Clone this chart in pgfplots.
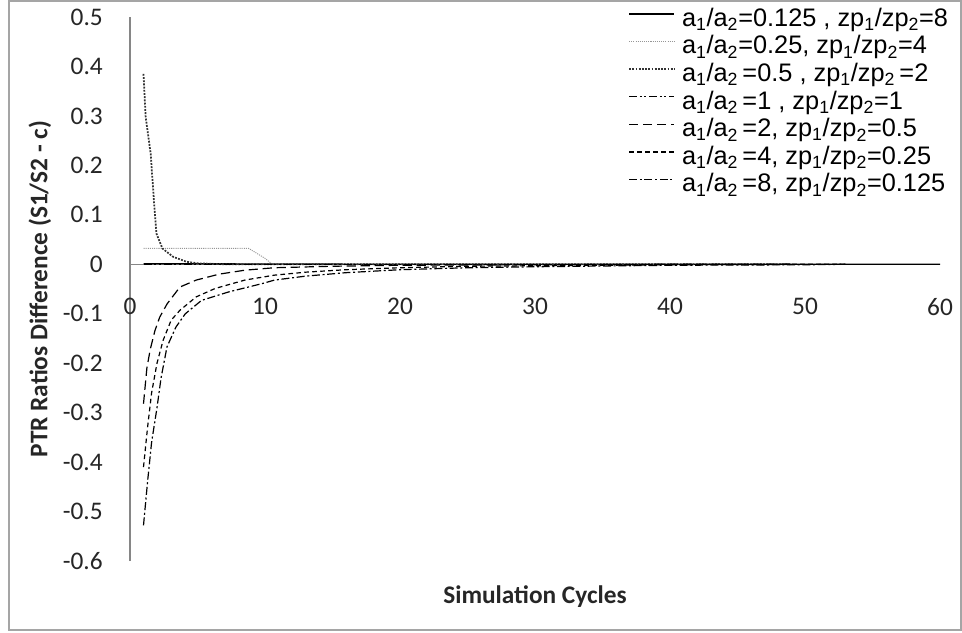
\documentclass[border=0pt]{standalone}
\usepackage{fontspec}
\setmainfont{Carlito}
\newfontfamily\arial{Liberation Sans}
\usepackage{pgfplots}
\pgfplotsset{compat=1.18}
\definecolor{axisgray}{RGB}{134,134,134}
\definecolor{framegray}{RGB}{165,165,165}
\definecolor{lightdot}{RGB}{150,150,150}

\newcommand{\ratio}[2]{a\textsubscript{1}/a\textsubscript{2}#1, zp\textsubscript{1}/zp\textsubscript{2}#2}

\begin{document}
\begin{tikzpicture}
% page size and outer chart frame
\path[use as bounding box] (-97.5pt,-53.25pt) rectangle (624pt,420.75pt);
\draw[framegray, line width=0.8pt] (-90.75pt,-51.75pt) rectangle (623.25pt,420pt);

\begin{axis}[
  scale only axis,
  width=607.5pt, height=408pt,
  xmin=0, xmax=60, ymin=-0.6, ymax=0.5,
  axis lines=middle,
  axis line style={axisgray, line width=0.8pt, -},
  hide obscured x ticks=false,
  hide obscured y ticks=false,
  major tick length=0pt,
  xtick={0,10,20,30,40,50,60},
  ytick={-0.6,-0.5,-0.4,-0.3,-0.2,-0.1,0,0.1,0.2,0.3,0.4,0.5},
  yticklabels={-0.6,-0.5,-0.4,-0.3,-0.2,-0.1,0,0.1,0.2,0.3,0.4,0.5},
  /pgf/number format/assume math mode=true,
  tick label style={font=\fontsize{19}{22}\selectfont, text=black!85},
  xticklabel style={anchor=north, inner sep=0pt, yshift=-25.5pt},
  yticklabel style={anchor=east, inner sep=0pt, xshift=-20.25pt},
  xlabel={Simulation Cycles},
  ylabel={PTR Ratios Difference (S1/S2 - c)},
  every axis x label/.style={at={(axis description cs:0.5,-0.0662)}, anchor=center,
    font=\fontsize{19}{22}\selectfont\bfseries, text=black!85},
  every axis y label/.style={at={(axis description cs:-0.1111,0.5)}, anchor=center, rotate=90,
    font=\fontsize{19}{22}\selectfont\bfseries, text=black!85},
  legend style={
    at={(axis description cs:0.6148,1.0202)}, anchor=north west,
    draw=none, fill=none, inner sep=0pt,
    font=\arial\fontsize{19}{22}\selectfont,
    nodes={inner sep=0pt, text height=15pt, text depth=5.7pt},
    /tikz/every odd column/.append style={column sep=5pt},
  },
  legend cell align=left,
  legend image code/.code={\draw[#1] (0pt,4.6pt) -- (34pt,4.6pt);},
]

% a1/a2 = 0.125
\addplot[black, line width=1pt] coordinates {
 (1,0.001) (5,0.001) (10,0.0005) (20,0) (30,0) (40,0) (50,0) (60,0)
};
\addlegendentry{\ratio{=0.125 }{=8}}

% a1/a2 = 0.25
\addplot[lightdot, line width=0.7pt, dash pattern=on 0.8pt off 0.8pt] coordinates {
 (1,0.032) (2,0.032) (3,0.032) (4,0.032) (5,0.032) (6,0.032) (7,0.032) (8,0.032)
 (8.8,0.032) (10,0.012) (10.5,0.001) (12,0) (20,0) (30,0) (40,0) (49,0)
};
\addlegendentry{\ratio{=0.25}{=4}}

% a1/a2 = 0.5
\addplot[black!80, line width=1.3pt, dash pattern=on 1.4pt off 1pt] coordinates {
 (1,0.385) (1.16,0.298) (1.53,0.224) (1.77,0.130) (1.96,0.062) (2.4,0.032)
 (3.2,0.015) (4.2,0.005) (5,0.002) (6,0.001) (7,0) (10,0) (20,0) (30,0) (40,0) (49,0)
};
\addlegendentry{\ratio{\thinspace=0.5 }{\thinspace=2}}

% a1/a2 = 1
\addplot[black, line width=0.9pt, dash pattern=on 6pt off 2pt on 1.5pt off 2pt on 1.5pt off 2pt] coordinates {
 (1,0) (10,0) (20,0) (30,0) (40,0) (49,0)
};
\addlegendentry{\ratio{\thinspace=1 }{=1}}

% a1/a2 = 2
\addplot[black, line width=0.9pt, dash pattern=on 7pt off 3.5pt] coordinates {
 (1,-0.282) (1.25,-0.21) (1.5,-0.172) (1.85,-0.134) (2.2,-0.107) (2.75,-0.080)
 (3.7,-0.046) (4.9,-0.032) (6.6,-0.020) (8.5,-0.012) (10.7,-0.007) (15,-0.004)
 (20,-0.002) (30,-0.001) (40,0) (49,0)
};
\addlegendentry{\ratio{\thinspace=2}{=0.5}}

% a1/a2 = 4
\addplot[black, line width=0.9pt, dash pattern=on 3.5pt off 2.5pt] coordinates {
 (1,-0.41) (1.3,-0.33) (1.6,-0.26) (2,-0.20) (2.45,-0.154) (3.05,-0.113)
 (3.7,-0.093) (4.9,-0.066) (6.3,-0.049) (8.5,-0.032) (10.7,-0.022) (13,-0.016)
 (16,-0.011) (20,-0.007) (25,-0.004) (30,-0.003) (40,-0.001) (50,0) (53,0)
};
\addlegendentry{\ratio{\thinspace=4}{=0.25}}

% a1/a2 = 8
\addplot[black, line width=0.9pt, dash pattern=on 6pt off 2pt on 1.5pt off 2pt] coordinates {
 (1,-0.528) (1.3,-0.44) (1.6,-0.36) (2,-0.29) (2.3,-0.23) (2.74,-0.167)
 (3.4,-0.127) (4.1,-0.100) (5.3,-0.073) (7.3,-0.056) (9.8,-0.039) (10.7,-0.032)
 (13,-0.024) (16,-0.017) (20,-0.011) (25,-0.007) (30,-0.005) (40,-0.002)
 (50,-0.001) (53,0)
};
\addlegendentry{\ratio{\thinspace=8}{=0.125}}

\end{axis}
\end{tikzpicture}
\end{document}
